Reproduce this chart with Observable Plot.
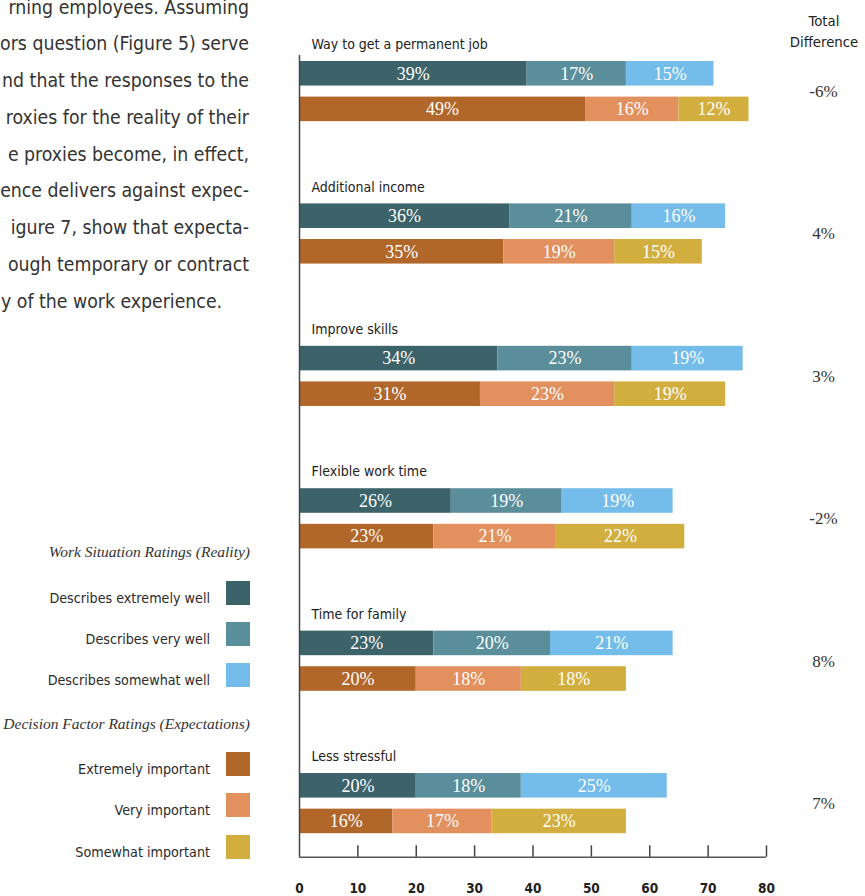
<!DOCTYPE html>
<html><head><meta charset="utf-8">
<script src="https://cdn.jsdelivr.net/npm/d3@7"></script>
<script src="https://cdn.jsdelivr.net/npm/@observablehq/plot@0.6"></script>
<style>
html,body{margin:0;padding:0;background:#fff;overflow:hidden;}
#wrap{position:relative;width:865px;height:896px;overflow:hidden;}
#wrap svg{position:absolute;left:0;top:0;}
.sans{font-family:"DejaVu Sans Condensed","Liberation Sans Narrow","Arial Narrow",sans-serif;color:#2b2b2b;}
.serif{font-family:"Liberation Serif","DejaVu Serif",serif;color:#333;}
.abs{position:absolute;white-space:nowrap;}
</style></head><body><div id="wrap"></div>
<script>
// ---------- data ----------
const groups = ["Way to get a permanent job","Additional income","Improve skills","Flexible work time","Time for family","Less stressful"];
const realityExtremely = [39,36,34,26,23,20];
const realityVery      = [17,21,23,19,20,18];
const realitySomewhat  = [15,16,19,19,21,25];
const expectExtremely  = [49,35,31,23,20,16];
const expectVery       = [16,19,23,21,18,17];
const expectSomewhat   = [12,15,19,22,18,23];
const totalDifference  = ["-6%","4%","3%","-2%","8%","7%"];
const xTicks = [0,10,20,30,40,50,60,70,80];
const realityKeys = ["Describes extremely well","Describes very well","Describes somewhat well"];
const expectKeys  = ["Extremely important","Very important","Somewhat important"];
const realityColors = ["#3c636a","#5a8e9b","#74bce9"];
const expectColors  = ["#b1672a","#e3905f","#d2ae3e"];
const legendTitles = ["Work Situation Ratings (Reality)","Decision Factor Ratings (Expectations)"];
const diffTitle = ["Total","Difference"];
// visible fragments of the (cropped) body paragraph beside the figure
const bodyLines = [
  "rning employees. Assuming",
  "ors question (Figure 5) serve",
  "nd that the responses to the",
  "roxies for the reality of their",
  "e proxies become, in effect,",
  "ence delivers against expec-",
  "igure 7, show that expecta-",
  "ough temporary or contract",
  "y of the work experience."
];

const SANS = '"DejaVu Sans Condensed","Liberation Sans Narrow","Arial Narrow",sans-serif';
const SERIF = '"Liberation Serif","DejaVu Serif",serif';

// ---------- table ----------
const ROWS = 4, BAR = 0.69, AXIS_Y = 22.35;
const segs = [];
groups.forEach((g, i) => {
  [[realityKeys, [realityExtremely[i], realityVery[i], realitySomewhat[i]]],
   [expectKeys,  [expectExtremely[i],  expectVery[i],  expectSomewhat[i]]]].forEach(([keys, vals], s) => {
    let acc = 0;
    vals.forEach((v, k) => {
      segs.push({group: g, row: i * ROWS + s, key: keys[k], x1: acc, x2: acc + v, value: v});
      acc += v;
    });
  });
});

const chart = Plot.plot({
  width: 865, height: 896,
  marginLeft: 299, marginRight: 99, marginTop: 25.4, marginBottom: 39.3,
  x: {domain: [0, 80], axis: null},
  y: {domain: [-1, AXIS_Y], reverse: true, axis: null},
  color: {domain: [...realityKeys, ...expectKeys], range: [...realityColors, ...expectColors]},
  style: {fontFamily: SANS, fontSize: "14px", color: "#222", background: "transparent", overflow: "visible"},
  marks: [
    Plot.rect(segs, {x1: "x1", x2: "x2", y1: "row", y2: d => d.row + BAR, fill: "key"}),
    Plot.text(segs, {x: d => (d.x1 + d.x2) / 2, y: d => d.row + BAR / 2, text: d => d.value + "%",
      fill: "white", fontFamily: SERIF, fontSize: 18}),
    Plot.text(groups, {x: 0, y: (d, i) => i * ROWS - 0.47, text: d => d, dx: 12, textAnchor: "start",
      fill: "#222", fontSize: 14}),
    Plot.text(totalDifference, {x: 80, y: (d, i) => i * ROWS + 0.845, text: d => d, dx: 57,
      fontFamily: SERIF, fontSize: 17, fill: "#333"}),
    Plot.ruleX([0], {y1: -0.17, y2: AXIS_Y, stroke: "#444", strokeWidth: 1.5}),
    Plot.ruleY([AXIS_Y], {x1: 0, x2: 80, stroke: "#555", strokeWidth: 1.5}),
    Plot.ruleX(xTicks.slice(1), {y1: AXIS_Y, y2: AXIS_Y - 0.32, stroke: "#444", strokeWidth: 1.5}),
    Plot.axisX({ticks: xTicks, tickSize: 0, tickPadding: 26, tickFormat: d => String(d), fontSize: 13.5, fontWeight: 600})
  ]
});
const wrap = document.getElementById("wrap");
wrap.appendChild(chart);

// ---------- HTML text: body paragraph, legend, header ----------
function addDiv(cls, text, css) {
  const el = document.createElement("div");
  el.className = cls;
  el.textContent = text;
  Object.assign(el.style, css);
  wrap.appendChild(el);
  return el;
}
// body text: justified lines end at x=249; the paragraph's last line starts at the left edge
const BODY_F = 19.3, ASC = 0.846;
bodyLines.forEach((t, i) => {
  const baseline = 14 + i * 36.75;
  const css = {top: (baseline - BODY_F * ASC) + "px", fontSize: BODY_F + "px", lineHeight: BODY_F + "px", color: "#333"};
  if (i === bodyLines.length - 1) css.left = "1px"; else css.right = (865 - 249) + "px";
  addDiv("abs sans", t, css);
});
// legend
const LF = 14.2;
const legendBlocks = [
  {title: legendTitles[0], titleBase: 558, keys: realityKeys, colors: realityColors, tops: [581, 622, 663]},
  {title: legendTitles[1], titleBase: 730, keys: expectKeys, colors: expectColors, tops: [752, 793, 835]}
];
legendBlocks.forEach(b => {
  addDiv("abs serif", b.title, {right: (865 - 250) + "px", top: (b.titleBase - 15.5 * 0.891) + "px",
    fontSize: "15.5px", lineHeight: "15.5px", fontStyle: "italic", color: "#333"});
  b.keys.forEach((k, j) => {
    const top = b.tops[j];
    const sw = document.createElement("div");
    Object.assign(sw.style, {position: "absolute", left: "226px", top: top + "px", width: "24px", height: "23.5px", background: b.colors[j]});
    wrap.appendChild(sw);
    addDiv("abs sans", k, {right: (865 - 210) + "px", top: (top + 22.5 - LF * ASC) + "px",
      fontSize: LF + "px", lineHeight: LF + "px", color: "#2b2b2b"});
  });
});
// total difference header
diffTitle.forEach((t, i) => {
  addDiv("abs sans", t, {left: "774px", width: "100px", textAlign: "center",
    top: (27 + i * 21 - 14.8 * ASC) + "px", fontSize: "14.8px", lineHeight: "14.8px", color: "#222"});
});
</script></body></html>
